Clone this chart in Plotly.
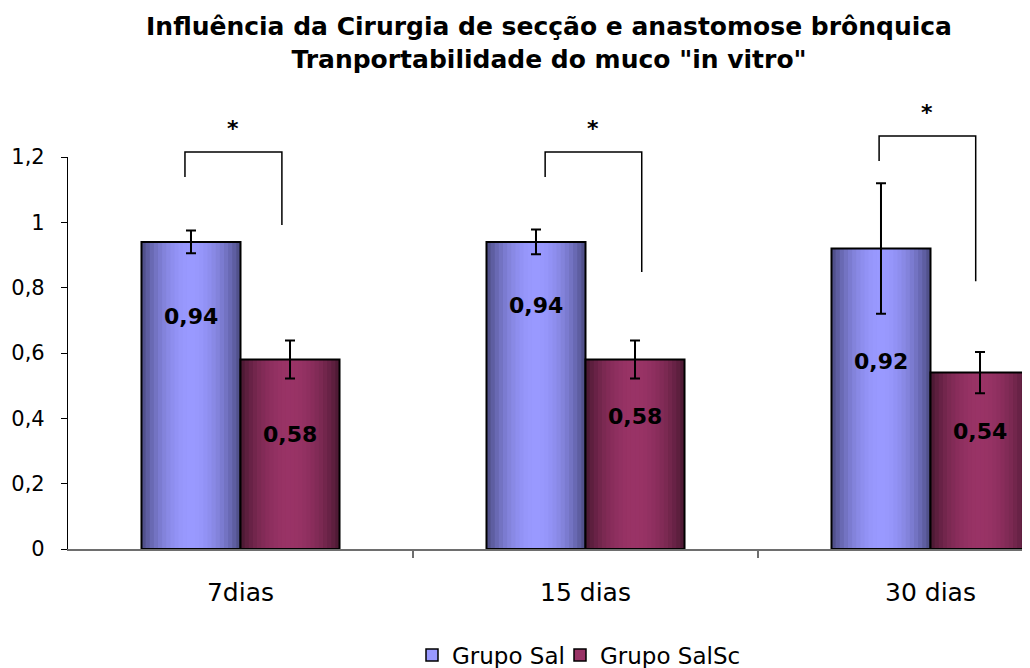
import numpy as np
import plotly.graph_objects as go

# ---------------- data ----------------
categories = ["7dias", "15 dias", "30 dias"]
series_names = ["Grupo Sal", "Grupo SalSc"]
sal = [0.94, 0.94, 0.92]
salsc = [0.58, 0.58, 0.54]
sal_err = [0.035, 0.038, 0.20]
salsc_err = [0.058, 0.058, 0.063]
significance = ["*", "*", "*"]
y_ticks = [0, 0.2, 0.4, 0.6, 0.8, 1.0, 1.2]

# ---------------- style / layout helpers ----------------
FONT = "DejaVu Sans"
PAGE_OFF = 8         # default body margin of the html page
FIG_W, FIG_H = 1030 - PAGE_OFF, 668 - PAGE_OFF
W = 0.287            # bar width in category units
N = 24               # gradient slices per bar
YMAX = 1.2
colors_center = [(153, 153, 255), (153, 51, 102)]
colors_edge = [(70, 70, 122), (68, 22, 46)]
label_drop_px = [[75, 64, 113], [75, 57, 59]]
bracket_dx = [(-0.161, 0.120), (-0.117, 0.163), (-0.149, 0.131)]
bracket_top = [1.215, 1.215, 1.264]
bracket_left_bottom = [1.139, 1.139, 1.188]
bracket_right_bottom = [0.992, 0.848, 0.820]

xpos = list(range(len(categories)))
values = [sal, salsc]
errors = [sal_err, salsc_err]
bases = [-W, 0.0]


def shade(k, t):
    s = np.sin(np.pi * t) ** 0.75
    c = [colors_edge[k][j] + (colors_center[k][j] - colors_edge[k][j]) * s for j in range(3)]
    return "rgb(%d,%d,%d)" % tuple(int(round(v)) for v in c)


fig = go.Figure()

for k in range(2):
    for i in range(N):
        t = (i + 0.5) / N
        last = (i == N - 1)
        fig.add_trace(go.Bar(
            x=xpos, y=values[k], width=W / N + (0 if last else 0.004), offset=bases[k] + i * W / N,
            marker=dict(color=shade(k, t), line=dict(width=0)),
            showlegend=False, hoverinfo="skip"))
    fig.add_trace(go.Bar(
        x=xpos, y=values[k], width=W, offset=bases[k], name=series_names[k],
        marker=dict(color="rgba(0,0,0,0)", line=dict(color="black", width=2)),
        error_y=dict(type="data", array=errors[k], color="black", thickness=2, width=5),
        showlegend=False))
    # legend entry
    fig.add_trace(go.Bar(
        x=[None], y=[None], name=series_names[k],
        marker=dict(color="rgb(%d,%d,%d)" % colors_center[k], line=dict(color="black", width=1.5)),
        legend="legend" if k == 0 else "legend2", showlegend=True))

annotations = []
# data labels
for k in range(2):
    for i, v in enumerate(values[k]):
        annotations.append(dict(
            x=xpos[i] + bases[k] + W / 2, y=v, xref="x", yref="y",
            text="<b>%s</b>" % ("%.2f" % v).replace(".", ","),
            showarrow=False, yanchor="middle", yshift=-label_drop_px[k][i],
            font=dict(family=FONT, size=22, color="black")))

shapes = []
for i in range(len(categories)):
    xl = xpos[i] + bracket_dx[i][0]
    xr = xpos[i] + bracket_dx[i][1]
    path = "M %f,%f L %f,%f L %f,%f L %f,%f" % (
        xl, bracket_left_bottom[i] / YMAX, xl, bracket_top[i] / YMAX,
        xr, bracket_top[i] / YMAX, xr, bracket_right_bottom[i] / YMAX)
    shapes.append(dict(type="path", path=path, xref="x", yref="paper",
                       line=dict(color="black", width=1.5)))
    annotations.append(dict(
        x=(xl + xr) / 2, y=bracket_top[i] / YMAX, xref="x", yref="paper",
        text="<b>%s</b>" % significance[i], showarrow=False, yanchor="middle", yshift=24,
        font=dict(family=FONT, size=22, color="black")))

fig.update_layout(
    width=FIG_W, height=FIG_H,
    margin=dict(l=68 - PAGE_OFF, r=0, t=157 - PAGE_OFF, b=119, autoexpand=False),
    paper_bgcolor="white", plot_bgcolor="white",
    barmode="overlay",
    separators=",.",
    font=dict(family=FONT, color="black"),
    title=dict(
        text="Influência da Cirurgia de secção e anastomose brônquica<br>Tranportabilidade do muco \"in vitro\"",
        x=0.5, xref="paper", xanchor="center",
        y=1 - 27 / FIG_H, yref="container", yanchor="top", automargin=False,
        font=dict(family=FONT, size=25, color="black", weight="bold")),
    xaxis=dict(
        range=[-0.5, -0.5 + 962 / 345], tickvals=xpos, ticktext=categories,
        ticks="", showgrid=False, zeroline=False, automargin=False,
        showline=True, linecolor="#6e6e6e", linewidth=1.5,
        tickfont=dict(family=FONT, size=25, color="black"),
        ticklabelstandoff=20,
        minor=dict(tickvals=[0.5, 1.5], ticks="outside", ticklen=7, tickcolor="#6e6e6e", tickwidth=1.5)),
    yaxis=dict(
        range=[0, YMAX], tickvals=y_ticks, showgrid=False, zeroline=False, automargin=False,
        showline=True, linecolor="black", linewidth=1.2,
        ticks="outside", ticklen=6, tickcolor="black",
        tickfont=dict(family=FONT, size=21, color="black"),
        ticklabelstandoff=12),
    legend=dict(x=(412 - 68) / 962, y=-106 / 392, xref="paper", yref="paper",
                xanchor="left", yanchor="middle", orientation="h",
                font=dict(family=FONT, size=23, color="black"), bgcolor="rgba(0,0,0,0)"),
    legend2=dict(x=(560 - 68) / 962, y=-106 / 392, xref="paper", yref="paper",
                 xanchor="left", yanchor="middle", orientation="h",
                 font=dict(family=FONT, size=23, color="black"), bgcolor="rgba(0,0,0,0)"),
    shapes=shapes,
    annotations=annotations,
)

fig.write_html("out.html")
